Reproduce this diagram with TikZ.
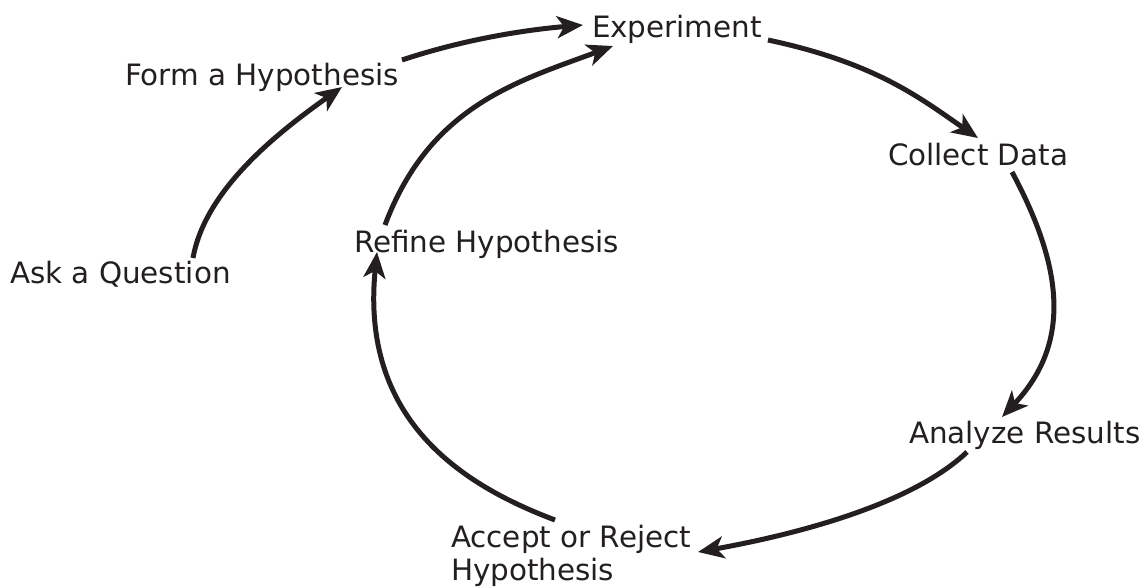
\documentclass[tikz,border=0pt]{standalone}
\usepackage{fontspec}
\setmainfont{DejaVu Sans}
\usetikzlibrary{arrows.meta,calc}
\definecolor{ink}{RGB}{35,31,32}
\tikzset{
  lbl/.style={anchor=base west, inner sep=0pt, outer sep=0pt, text=ink,
    font=\fontsize{29.4}{33}\selectfont, align=left},
  conn/.style={draw=ink, line width=5pt,
    -{Stealth[length=26pt,width=22pt,inset=7pt]}}
}
\begin{document}
\begin{tikzpicture}[x=1pt,y=-1pt]
\useasboundingbox (0,0) rectangle (1141,587);
\node[lbl] (ask) at (10,283) {Ask a Question};
\node[lbl] (form) at (125,85) {Form a Hypothesis};
\node[lbl] (exp) at (592,37) {Experiment};
\node[lbl] (refine) at (354,252) {Refine Hypothesis};
\node[lbl] (collect) at (888,165) {Collect Data};
\node[lbl] (analyze) at (909,443) {Analyze Results};
\node[lbl] (accept) at (451,580) {Accept or Reject\\Hypothesis};

\draw[conn] ($(ask.base west)+(183,-25)$) .. controls +(12,-68) and +(-65,46) .. ($(form.base west)+(217,2)$);
\draw[conn] ($(form.base west)+(277,-25)$) .. controls +(60,-20) and +(-60,5) .. ($(exp.base west)+(-9,-12)$);
\draw[conn] ($(refine.base west)+(31,-27)$) .. controls +(45,-120) and +(-94,35) .. ($(exp.base west)+(21,9)$);
\draw[conn] ($(exp.base west)+(176,3)$) .. controls +(108,23) and +(-58,-40) .. ($(collect.base west)+(90,-27)$);
\draw[conn] ($(collect.base west)+(124,7)$) .. controls +(52,97) and +(69,-73) .. ($(analyze.base west)+(93,-26)$);
\draw[conn] ($(analyze.base west)+(58,9)$) .. controls +(-58,55) and +(89,-16) .. ($(accept.base west)+(247,-28)$);
\draw[conn] ($(accept.base west)+(104,-60)$) .. controls +(-93,-35) and +(-17,168) .. ($(refine.base west)+(23,0)$);
\end{tikzpicture}
\end{document}
